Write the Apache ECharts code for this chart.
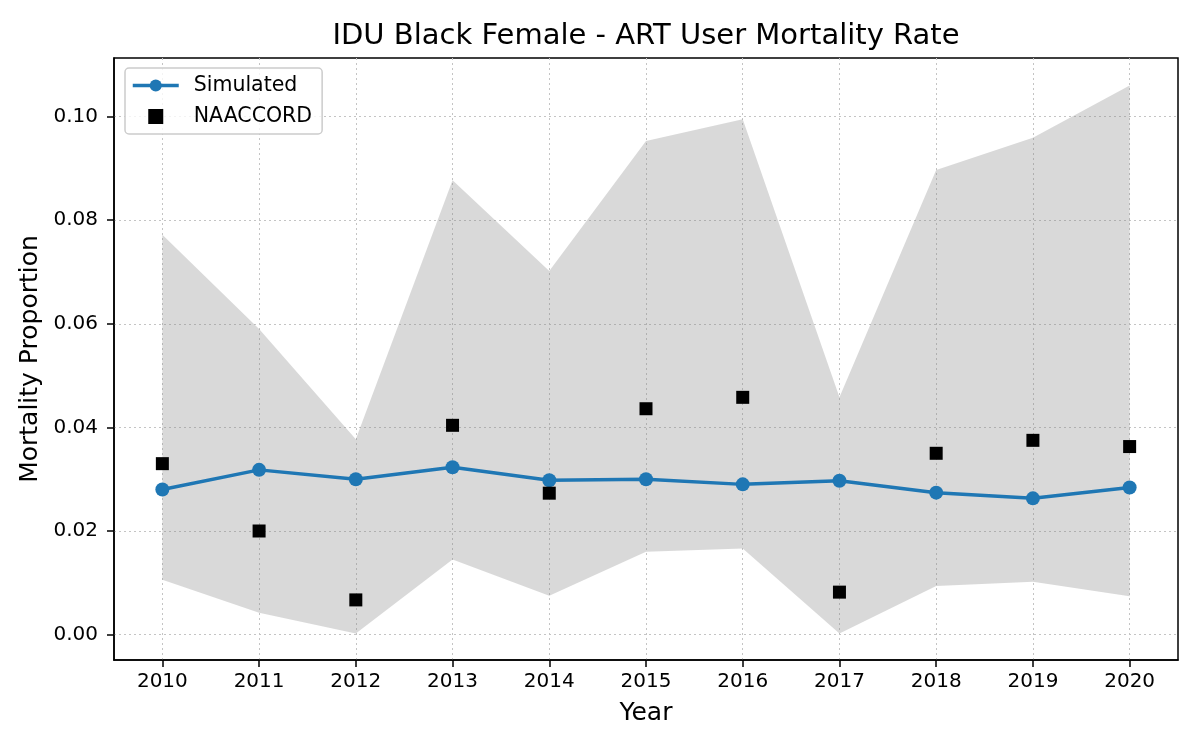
<!DOCTYPE html>
<html>
<head>
<meta charset="utf-8">
<script src="https://cdn.jsdelivr.net/npm/echarts@6/dist/echarts.min.js"></script>
<style>
html,body{margin:0;padding:0;background:#fff}
#chart{width:1200px;height:750px}
</style>
</head>
<body>
<div id="chart"></div>
<script>
const years = [2010, 2011, 2012, 2013, 2014, 2015, 2016, 2017, 2018, 2019, 2020];
const simulated = [0.0280, 0.0318, 0.0300, 0.0323, 0.0298, 0.0300, 0.0290, 0.0297, 0.0274, 0.0263, 0.0284];
const naaccord = [0.0330, 0.0200, 0.0067, 0.0404, 0.0273, 0.0436, 0.0458, 0.0082, 0.0350, 0.0375, 0.0363];
const bandLow = [0.0106, 0.0042, 0.0002, 0.0145, 0.0075, 0.0160, 0.0166, 0.0002, 0.0094, 0.0102, 0.0074];
const bandHigh = [0.0772, 0.0590, 0.0377, 0.0877, 0.0702, 0.0953, 0.0995, 0.0458, 0.0897, 0.0959, 0.1060];
const yTicks = [0, 0.02, 0.04, 0.06, 0.08, 0.10];

const FONT = 'DejaVu Sans';
const SQUARE = 'path://M0 0H10V10H0Z';
const chart = echarts.init(document.getElementById('chart'));

const gridLine = {show: true, lineStyle: {color: '#c4c4c4', type: [2, 3], width: 1}};

// band between lower and upper bound, drawn as one polygon
function renderBand(params, api) {
    if (params.dataIndex !== 0) return;
    const top = years.map((y, i) => api.coord([y, bandHigh[i]]));
    const bottom = years.map((y, i) => api.coord([y, bandLow[i]])).reverse();
    return {
        type: 'polygon',
        shape: {points: top.concat(bottom)},
        style: {fill: 'rgba(128,128,128,0.3)'},
        silent: true
    };
}

chart.setOption({
    backgroundColor: '#ffffff',
    animation: false,
    textStyle: {fontFamily: FONT, color: '#000'},
    title: {
        text: 'IDU Black Female - ART User Mortality Rate',
        left: 646, top: 22, textAlign: 'center', padding: 0,
        textStyle: {fontFamily: FONT, fontSize: 29, fontWeight: 'normal', color: '#000'}
    },
    legend: {
        data: ['Simulated', 'NAACCORD'],
        orient: 'vertical', left: 125, top: 68,
        padding: [7, 10, 7, 6],
        itemGap: 10, itemWidth: 46, itemHeight: 15,
        borderColor: '#cccccc', borderWidth: 1.5, borderRadius: 4,
        backgroundColor: 'rgba(255,255,255,0.8)',
        lineStyle: {width: 3.5},
        textStyle: {fontFamily: FONT, fontSize: 20.5, color: '#000', padding: [0, 0, 0, 10]}
    },
    grid: {left: 114, right: 22, top: 58, bottom: 90, show: true, borderColor: '#000', borderWidth: 1.5, containLabel: false},
    xAxis: {
        type: 'value', min: 2009.5, max: 2020.5,
        name: 'Year', nameLocation: 'middle', nameGap: 41,
        nameTextStyle: {fontFamily: FONT, fontSize: 25, color: '#000'},
        axisLine: {show: true, onZero: false, lineStyle: {color: '#000', width: 1.5}},
        axisTick: {show: true, length: 7, lineStyle: {color: '#000', width: 1.5}, customValues: years},
        axisLabel: {fontFamily: FONT, fontSize: 20, color: '#000', margin: 12, customValues: years, formatter: v => String(v)},
        splitLine: gridLine
    },
    yAxis: {
        type: 'value', min: -0.0049, max: 0.1113,
        name: 'Mortality Proportion', nameLocation: 'middle', nameGap: 68, nameRotate: 90,
        nameTextStyle: {fontFamily: FONT, fontSize: 25, color: '#000'},
        axisLine: {show: true, onZero: false, lineStyle: {color: '#000', width: 1.5}},
        axisTick: {show: true, length: 7, lineStyle: {color: '#000', width: 1.5}, customValues: yTicks},
        axisLabel: {fontFamily: FONT, fontSize: 20, color: '#000', margin: 16, customValues: yTicks, formatter: v => v.toFixed(2)},
        splitLine: gridLine
    },
    series: [
        {
            name: 'band', type: 'custom', renderItem: renderBand,
            data: years.map((y, i) => [y, bandLow[i], bandHigh[i]]),
            encode: {x: 0, y: [1, 2]},
            silent: true, z: 1
        },
        {
            name: 'Simulated', type: 'line',
            data: years.map((y, i) => [y, simulated[i]]),
            symbol: 'circle', symbolSize: 14,
            lineStyle: {color: '#1f77b4', width: 3.5},
            itemStyle: {color: '#1f77b4'}, z: 3
        },
        {
            name: 'NAACCORD', type: 'scatter',
            data: years.map((y, i) => [y, naaccord[i]]),
            symbol: SQUARE, symbolKeepAspect: true, symbolSize: 13,
            itemStyle: {color: '#000', opacity: 1}, z: 4
        }
    ]
});
</script>
</body>
</html>
